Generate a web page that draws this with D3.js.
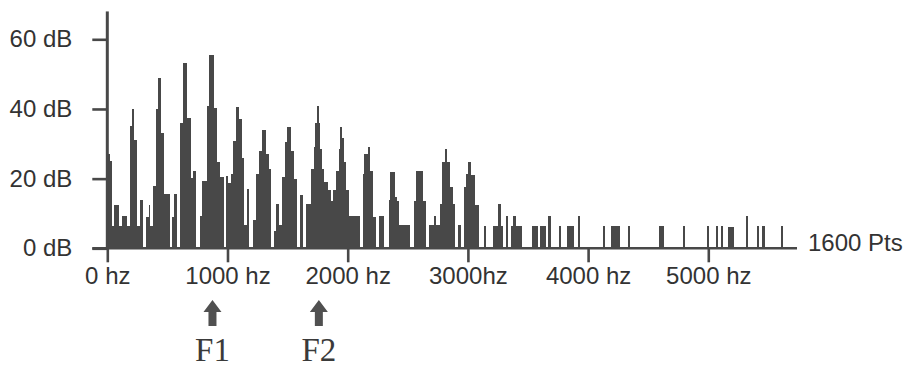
<!DOCTYPE html>
<html>
<head>
<meta charset="utf-8">
<script src="https://cdn.jsdelivr.net/npm/d3@7"></script>
<style>
  html, body { margin: 0; padding: 0; background: #ffffff; }
  svg { display: block; }
  .lbl { font-family: "Liberation Sans", Arial, Helvetica, sans-serif; fill: #333333; }
  .formant { font-family: "Liberation Serif", "Times New Roman", serif; fill: #3a3a3a; }
</style>
</head>
<body>
<svg id="chart" width="905" height="369"></svg>
<script>
// Spectrum as a step function: each level holds from its edge to the next edge.
const edgeHz = [
  0, 22, 35, 56, 97, 120, 161, 185, 205, 226, 251, 272, 299, 326, 343, 359, 380, 401, 422, 447,
  472, 522, 542, 559, 582, 605, 627, 666, 694, 710, 738, 771, 785, 827, 846, 890, 910, 938, 971, 985,
  1007, 1029, 1048, 1071, 1098, 1118, 1137, 1160, 1181, 1210, 1237, 1264, 1287, 1320, 1343, 1364, 1387, 1404, 1431, 1453,
  1478, 1497, 1526, 1553, 1581, 1601, 1628, 1653, 1695, 1722, 1730, 1742, 1759, 1769, 1786, 1805, 1834, 1861, 1880, 1903,
  1925, 1938, 1952, 1967, 1986, 2008, 2102, 2125, 2138, 2166, 2185, 2213, 2235, 2263, 2304, 2341, 2352, 2391, 2410, 2429,
  2521, 2549, 2568, 2624, 2651, 2679, 2715, 2737, 2770, 2784, 2807, 2828, 2851, 2873, 2895, 2917, 2940, 2965, 2984, 3001,
  3028, 3056, 3090, 3131, 3153, 3206, 3253, 3273, 3294, 3317, 3336, 3358, 3378, 3400, 3450, 3533, 3580, 3602, 3650, 3669,
  3691, 3755, 3774, 3822, 3885, 3913, 3932, 4126, 4143, 4190, 4265, 4329, 4348, 4590, 4634, 4787, 4806, 4986, 5006, 5064,
  5083, 5106, 5125, 5166, 5214, 5316, 5334, 5407, 5424, 5449, 5469, 5605, 5624, 5738
];
const levelDb = [
  27, 25, 6.5, 12.5, 6.5, 9.4, 6.5, 35, 40, 31, 6.5, 14, 0, 9, 12.5, 6.5, 18, 40, 49, 33,
  15.7, 0, 9, 15.7, 0, 36, 53.2, 37.5, 20.3, 22.3, 0, 9.4, 19.4, 40.9, 55.6, 40.4, 24.7, 20.4, 0, 20.7,
  18.7, 21.3, 30.9, 40.6, 37, 26, 6.6, 17, 0, 8, 21.3, 28, 33.9, 27, 22.8, 0, 5, 12.6, 6.6, 20.4,
  30.4, 34.7, 28, 20, 0, 15.4, 0, 12.8, 22.8, 29, 36, 40.9, 36, 28.5, 22.8, 19, 16.6, 13.7, 16.6, 22.3,
  28.5, 34.7, 31.8, 24.7, 16.6, 9.4, 0, 21.3, 27, 29, 22.3, 9, 0, 9.4, 0, 14, 22, 14.7, 13.7, 6.6,
  0, 13.7, 22.3, 13.7, 0, 6.6, 9.4, 6.6, 12.8, 24.7, 28.5, 24.7, 17.5, 12.8, 0, 6.6, 0, 17.5, 21.3, 24.7,
  20.9, 12.3, 0, 6.3, 0, 6.3, 12.6, 6.3, 0, 9.4, 0, 6.3, 9.4, 6.3, 0, 6.3, 0, 6.3, 0, 9.4,
  0, 6.3, 0, 6.3, 0, 9.4, 0, 6.3, 0, 6.3, 0, 6.3, 0, 6.3, 0, 6.3, 0, 6.3, 0, 6.3,
  0, 6.3, 0, 6, 0, 9.2, 0, 6.3, 0, 6.3, 0, 6.3, 0, 0
];

const yTickValues = [0, 20, 40, 60];
const xTickValues = [0, 1000, 2000, 3000, 4000, 5000];
const xTickLabels = ["0 hz", "1000 hz", "2000 hz", "3000hz", "4000 hz", "5000 hz"];
const formantHz = [875, 1760];
const formantNames = ["F1", "F2"];
const pointsLabel = "1600 Pts";
const axisTopDb = 68;

const spectrum = edgeHz.map((hz, i) => ({ hz, db: levelDb[i] }));

const svg = d3.select("#chart");
const x = d3.scaleLinear().domain([0, 5000]).range([107.3, 708.3]);
const y = d3.scaleLinear().domain([0, 60]).range([248.3, 39.3]);

const ink = "#484848";

// Filled stepped spectrum
const area = d3.area()
  .curve(d3.curveStepAfter)
  .x(d => x(d.hz))
  .y0(y(0))
  .y1(d => y(d.db));

svg.append("path")
  .datum(spectrum)
  .attr("d", area)
  .attr("fill", ink)
  .attr("shape-rendering", "crispEdges");

// Left axis: ticks and dB labels
const yAxis = d3.axisLeft(y)
  .tickValues(yTickValues)
  .tickSize(15)
  .tickPadding(20)
  .tickFormat(d => d + " dB");

const gy = svg.append("g")
  .attr("transform", `translate(${x(0)},0)`)
  .call(yAxis);
gy.select(".domain").remove();
gy.selectAll("line").attr("stroke", ink).attr("stroke-width", 2.6);
gy.selectAll("text")
  .attr("class", "lbl")
  .attr("font-size", 24)
  .attr("fill", "#333333");

// Bottom axis: frequency ticks and labels
const xAxis = d3.axisBottom(x)
  .tickValues(xTickValues)
  .tickSize(14)
  .tickPadding(5)
  .tickFormat((d, i) => xTickLabels[i]);

const gx = svg.append("g")
  .attr("transform", `translate(0,${y(0)})`)
  .call(xAxis);
gx.select(".domain").remove();
gx.selectAll("line").attr("stroke", ink).attr("stroke-width", 2.6);
gx.selectAll("text")
  .attr("class", "lbl")
  .attr("font-size", 24)
  .attr("fill", "#333333");

// Baseline and vertical axis line
const spanEndHz = edgeHz[edgeHz.length - 1];
svg.append("line")
  .attr("x1", x(0) - 15).attr("x2", x(spanEndHz))
  .attr("y1", y(0)).attr("y2", y(0))
  .attr("stroke", ink).attr("stroke-width", 2.4);
svg.append("line")
  .attr("x1", x(0)).attr("x2", x(0))
  .attr("y1", y(0)).attr("y2", y(axisTopDb))
  .attr("stroke", ink).attr("stroke-width", 3);

svg.append("text")
  .attr("class", "lbl")
  .attr("x", x(spanEndHz) + 11)
  .attr("y", y(0) + 3)
  .attr("font-size", 24)
  .text(pointsLabel);

// Formant markers
const fm = svg.append("g").selectAll("g")
  .data(formantHz)
  .join("g")
  .attr("transform", d => `translate(${x(d)},0)`);

fm.append("path")
  .attr("d", "M0,300 L9,312 L4,312 L4,326 L-4,326 L-4,312 L-9,312 Z")
  .attr("fill", "#505050");

fm.append("text")
  .attr("class", "formant")
  .attr("text-anchor", "middle")
  .attr("y", 361)
  .attr("font-size", 33)
  .text((d, i) => formantNames[i]);
</script>
</body>
</html>
